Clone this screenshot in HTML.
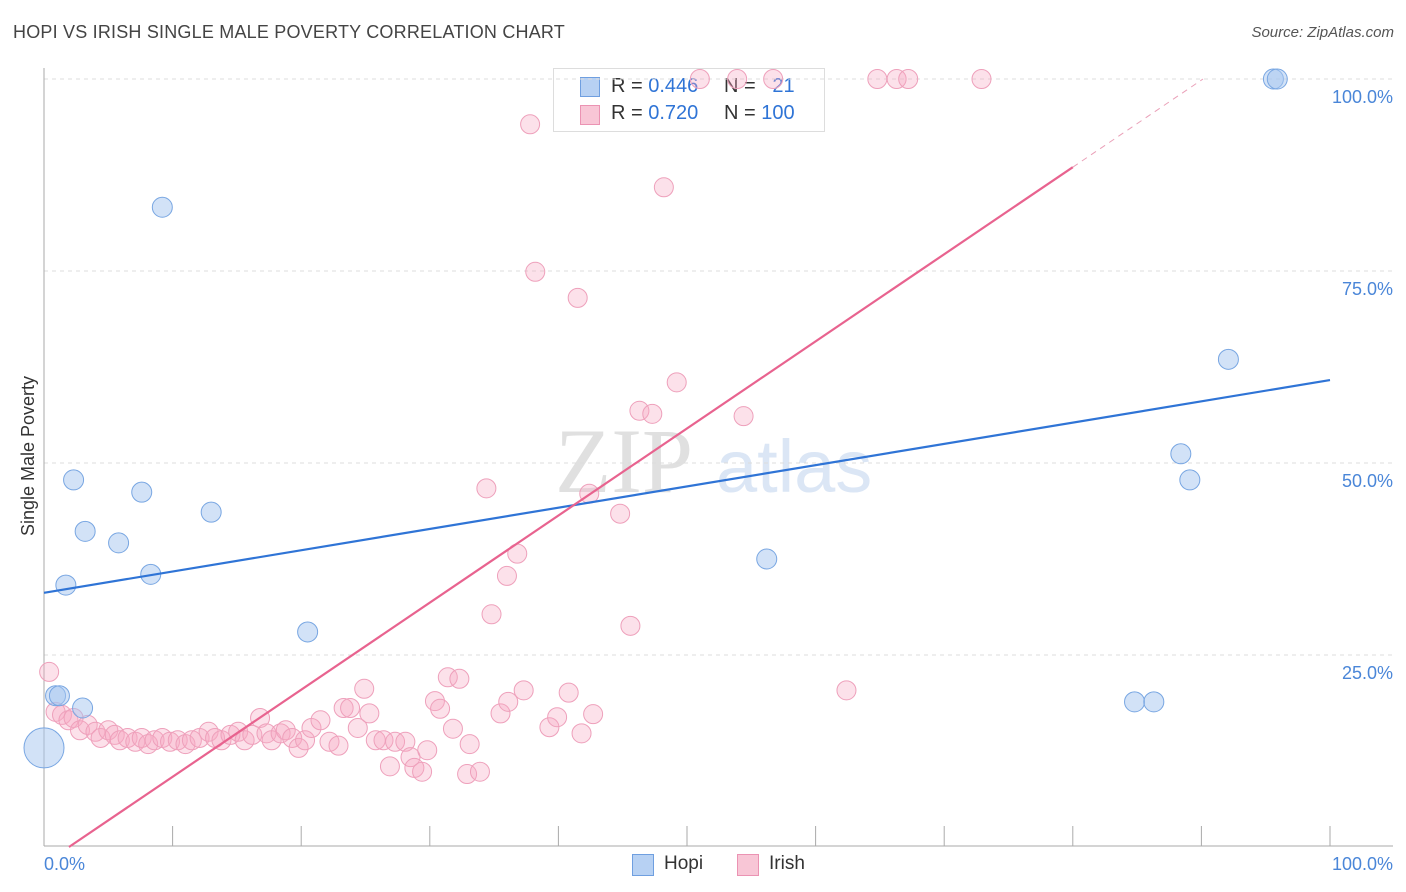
<!DOCTYPE html>
<html><head><meta charset="utf-8"><style>
body{margin:0;background:#fff;font-family:"Liberation Sans",sans-serif;}
#wrap{position:relative;width:1406px;height:892px;overflow:hidden;}
.t{position:absolute;white-space:nowrap;}
</style></head><body>
<div id="wrap">
<div class="t" style="left:13px;top:22px;font-size:18px;color:#444;letter-spacing:0.2px">HOPI VS IRISH SINGLE MALE POVERTY CORRELATION CHART</div>
<div class="t" style="right:12px;top:24px;font-size:15px;color:#555;font-style:italic">Source: ZipAtlas.com</div>
<div class="t" style="left:553px;top:68px;width:270px;height:62px;border:1px solid #ddd;background:#fff;font-size:20px">
 <div class="t" style="left:26px;top:8px;width:18px;height:18px;background:#b7d1f3;border:1px solid #6f9fe0"></div>
 <div class="t" style="left:57px;top:6px;color:#333">R = <span style="color:#2f74d6">0.446</span></div>
 <div class="t" style="left:170px;top:6px;color:#333">N = &nbsp;&nbsp;<span style="color:#2f74d6">21</span></div>
 <div class="t" style="left:26px;top:36px;width:18px;height:18px;background:#f8c6d6;border:1px solid #eb93b3"></div>
 <div class="t" style="left:57px;top:33px;color:#333">R = <span style="color:#2f74d6">0.720</span></div>
 <div class="t" style="left:170px;top:33px;color:#333">N = <span style="color:#2f74d6">100</span></div>
</div>
<svg id="svg" width="1406" height="892" style="position:absolute;left:0;top:0"></svg>
</div>
<script>
const xTickLabels=["0.0%","100.0%"];
const yTicks=[25,50,75,100];
const yTickLabels=["25.0%","50.0%","75.0%","100.0%"];
const hopiX=[0.9,1.2,3.0,0,1.7,2.3,3.2,5.8,7.6,8.3,9.2,13.0,20.5,56.2,88.4,89.1,84.8,86.3,92.1,95.6,95.9];
const hopiY=[19.7,19.7,18.1,12.9,34.1,47.8,41.1,39.6,46.2,35.5,83.3,43.6,28.0,37.5,51.2,47.8,18.9,18.9,63.5,100,100];
const hopiR=[10,10,10,20,10,10,10,10,10,10,10,10,10,10,10,10,10,10,10,10,10];
const irishX=[0.4,0.9,1.4,1.9,2.3,2.8,3.4,4.0,4.4,5.0,5.5,5.9,6.5,7.1,7.6,8.1,8.6,9.2,9.8,10.4,11.0,11.5,12.1,12.8,13.3,13.8,14.5,15.1,15.6,16.2,16.8,17.3,17.7,18.4,18.8,19.3,19.8,20.3,20.8,21.5,22.2,22.9,23.3,23.8,24.4,24.9,25.3,25.8,26.4,26.9,27.3,28.1,28.5,28.8,29.4,29.8,30.4,30.8,31.4,31.8,32.3,33.1,32.9,33.9,34.4,34.8,35.5,36.0,36.1,36.8,37.3,37.8,38.2,39.3,39.9,40.8,41.5,41.8,42.4,42.7,44.8,45.6,46.3,47.3,48.2,49.2,51.0,53.9,54.4,56.7,62.4,64.8,66.3,67.2,72.9];
const irishY=[22.8,17.6,17.2,16.5,16.8,15.2,15.9,15.0,14.2,15.2,14.6,13.9,14.2,13.7,14.2,13.4,13.9,14.2,13.7,13.9,13.4,13.9,14.2,15.0,14.2,13.9,14.6,15.0,13.9,14.6,16.8,14.8,13.9,14.8,15.2,14.2,12.9,13.9,15.5,16.5,13.7,13.2,18.1,18.1,15.5,20.6,17.4,13.9,13.9,10.5,13.7,13.7,11.7,10.3,9.8,12.6,19.0,18.0,22.1,15.4,21.9,13.4,9.5,9.8,46.7,30.3,17.4,35.3,18.9,38.2,20.4,94.1,74.9,15.6,16.9,20.1,71.5,14.8,46.0,17.3,43.4,28.8,56.8,56.4,85.9,60.5,100,100,56.1,100,20.4,100,100,100,100];
const hopiTrend=[33.1,0.277];
const irishTrend=[-2.2,1.134];
const L=44,R=1330,T=79,B=847;
function sx(v){return L+(R-L)*v/100;}
function sy(v){return B-(B-T)*v/100;}
const svg=document.getElementById('svg');
const NS='http://www.w3.org/2000/svg';
function mk(tag,attrs){const e=document.createElementNS(NS,tag);for(const k in attrs)e.setAttribute(k,attrs[k]);svg.appendChild(e);return e;}
let wm=mk('text',{x:555,y:492,'font-size':92,'font-family':'Liberation Serif,serif',fill:'#e0e0e0'});wm.textContent='ZIP';


let wm2=mk('text',{x:716,y:492,'font-size':74,'font-family':'Liberation Sans,sans-serif',fill:'#dbe6f5'});wm2.textContent='atlas';


yTicks.forEach((v,i)=>{
 const g=mk('line',{x1:L,x2:1393,y1:sy(v),y2:sy(v),stroke:'#dcdcdc','stroke-dasharray':'4,4'});
 
 
 const t=mk('text',{x:1393,y:sy(v)+24,'text-anchor':'end','font-size':18,fill:'#4a86d8'});t.textContent=yTickLabels[i];
 
 
});
let ax=mk('line',{x1:L,x2:L,y1:68,y2:846,stroke:'#aaa'});


let bx=mk('line',{x1:L,x2:1393,y1:846,y2:846,stroke:'#aaa'});


for(let i=1;i<=10;i++){const tk=mk('line',{x1:sx(i*10),x2:sx(i*10),y1:826,y2:846,stroke:'#aaa'});
 
 }
let xl0=mk('text',{x:44,y:870,'font-size':18,fill:'#4a86d8'});xl0.textContent=xTickLabels[0];


let xl1=mk('text',{x:1393,y:870,'text-anchor':'end','font-size':18,fill:'#4a86d8'});xl1.textContent=xTickLabels[1];


let yt=mk('text',{x:34,y:456,'font-size':18,fill:'#333','text-anchor':'middle',transform:'rotate(-90 34 456)'});yt.textContent='Single Male Poverty';


irishX.forEach((x,i)=>{const c=mk('circle',{cx:sx(x),cy:sy(irishY[i]),r:9.5,fill:'rgba(245,170,195,0.35)',stroke:'#eea0bb','stroke-width':1});
 
 });
hopiX.forEach((x,i)=>{const c=mk('circle',{cx:sx(x),cy:sy(hopiY[i]),r:hopiR[i],fill:'rgba(165,198,240,0.5)',stroke:'#78a6e2','stroke-width':1});
 
 });
let hl=mk('line',{x1:sx(0),y1:sy(hopiTrend[0]),x2:sx(100),y2:sy(hopiTrend[0]+hopiTrend[1]*100),stroke:'#2f74d6','stroke-width':2.2});


const ix0=-irishTrend[0]/irishTrend[1], ix1=80, ix2=(100-irishTrend[0])/irishTrend[1];
let il=mk('line',{x1:sx(ix0),y1:sy(0),x2:sx(ix1),y2:sy(irishTrend[0]+irishTrend[1]*ix1),stroke:'#e8638f','stroke-width':2.2});


let id=mk('line',{x1:sx(ix1),y1:sy(irishTrend[0]+irishTrend[1]*ix1),x2:sx(ix2),y2:sy(100),stroke:'#eaa0b8','stroke-width':1,'stroke-dasharray':'6,5'});


</script>
<div class="t" style="left:632px;top:854px;width:20px;height:20px;background:#b7d1f3;border:1px solid #6f9fe0"></div>
<div class="t" style="left:664px;top:853px;font-size:19px;color:#333">Hopi</div>
<div class="t" style="left:737px;top:854px;width:20px;height:20px;background:#f8c6d6;border:1px solid #eb93b3"></div>
<div class="t" style="left:769px;top:853px;font-size:19px;color:#333">Irish</div>
</body></html>
